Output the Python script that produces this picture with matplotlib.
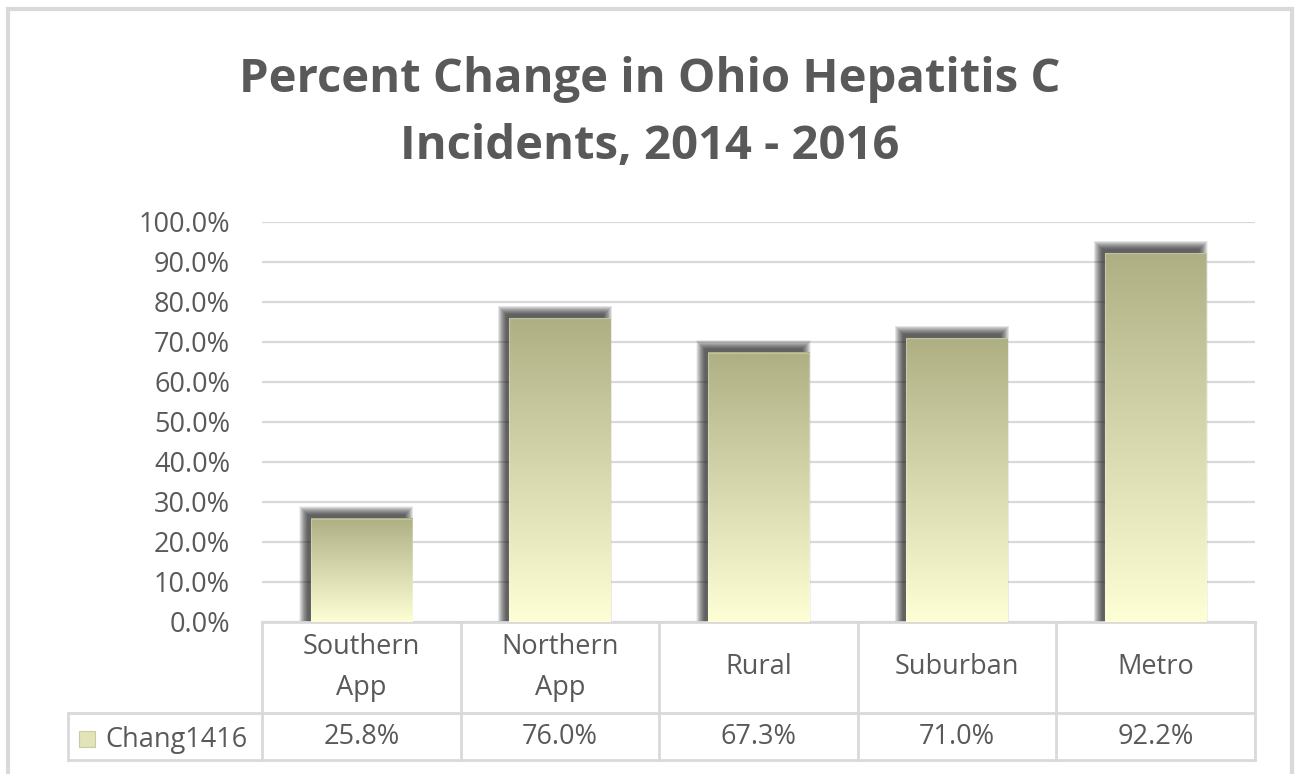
import numpy as np
import matplotlib
matplotlib.use("Agg")
import matplotlib.pyplot as plt
from matplotlib.patches import Rectangle
from matplotlib.lines import Line2D

# ---- data ----
categories = ["Southern\nApp", "Northern\nApp", "Rural", "Suburban", "Metro"]
values = [25.8, 76.0, 67.3, 71.0, 92.2]
series_name = "Chang1416"
title = "Percent Change in Ohio Hepatitis C\nIncidents, 2014 - 2016"
yticks = list(range(0, 101, 10))

# ---- style ----
FONT = "Open Sans"
TXT = "#595959"
GRID = "#d9d9d9"
TOP_C = np.array([174, 176, 132]) / 255
BOT_C = np.array([255, 255, 214]) / 255
W, H = 1299, 774

plt.rcParams["font.family"] = [FONT, "DejaVu Sans"]
fig = plt.figure(figsize=(W / 100, H / 100), dpi=100)

def fx(px):
    return px / W

def fy(py):
    return 1 - py / H

# outer chart border
fig.add_artist(Rectangle((fx(8), fy(790)), fx(1292) - fx(8), fy(9) - fy(790),
                         transform=fig.transFigure, fill=False,
                         edgecolor=GRID, lw=3))

ax = fig.add_axes([fx(262), fy(622), fx(1255) - fx(262), fy(222) - fy(622)])
ax.set_xlim(-0.5, len(categories) - 0.5)
ax.set_ylim(0, 100)
for s in ax.spines.values():
    s.set_visible(False)
ax.set_yticks(yticks)
ax.set_yticklabels([f"{v:.1f}%" for v in yticks])
ax.tick_params(axis="y", length=0, pad=23, labelsize=19.5, labelcolor=TXT)
ax.set_xticks([])
ax.yaxis.grid(True, color=GRID, lw=1.6)
ax.set_axisbelow(True)

# pixel -> data conversions
bw = 0.51
px_x = (len(categories)) / (1255 - 262)
px_y = 100 / (622 - 222)

# shadows (blurred, offset up-left)
dx, dy = -5, 6
nlay = 18
for i, v in enumerate(values):
    x0 = i - bw / 2
    for k in range(nlay):
        grow = (nlay - k) * 0.5 - 2.5
        ax.add_patch(Rectangle((x0 + (dx - grow) * px_x, -5),
                               bw + 2 * grow * px_x,
                               v + 5 + (dy + grow) * px_y,
                               facecolor="#1a1a1a", edgecolor="none",
                               alpha=0.06, zorder=2))

# gradient bars
grad = np.linspace(0, 1, 256)[:, None]
img = TOP_C[None, None, :] * (1 - grad[..., None]) + BOT_C[None, None, :] * grad[..., None]
for i, v in enumerate(values):
    x0 = i - bw / 2
    ax.imshow(img, extent=[x0, x0 + bw, 0, v], aspect="auto", zorder=3,
              interpolation="bilinear")
    ax.add_patch(Rectangle((x0, 0), bw, v, fill=False,
                           edgecolor=(1, 1, 1, 0.25), lw=0.8, zorder=4))
ax.set_xlim(-0.5, len(categories) - 0.5)
ax.set_ylim(0, 100)

# title
fig.text(0.5, fy(113), title, ha="center", va="center", fontsize=34,
         fontweight="bold", color=TXT, linespacing=1.55)

# data table
n = len(categories)
hdr = -(713 - 622) / 400
bot = -(760 - 622) / 400
leg_l = -(262 - 68) / (1255 - 262)
lk = dict(transform=ax.transAxes, color=GRID, lw=2, clip_on=False)
ax.add_line(Line2D([0, 1], [0, 0], **lk))
ax.add_line(Line2D([leg_l, 1], [hdr, hdr], **lk))
ax.add_line(Line2D([leg_l, 1], [bot, bot], **lk))
for i in range(n + 1):
    ax.add_line(Line2D([i / n, i / n], [0, bot], **lk))
ax.add_line(Line2D([leg_l, leg_l], [hdr, bot], **lk))

tk = dict(transform=ax.transAxes, ha="center", va="center", fontsize=19.5,
          color=TXT, clip_on=False)
for i, (c, v) in enumerate(zip(categories, values)):
    ax.text((i + 0.5) / n, hdr / 2, c, linespacing=1.6, **tk)
    ax.text((i + 0.5) / n, (hdr + bot) / 2, f"{v:.1f}%", **tk)

# legend key
fig.add_artist(Rectangle((fx(79), fy(747)), fx(95) - fx(79), fy(731) - fy(747),
                         transform=fig.transFigure, facecolor="#e2e3b9",
                         edgecolor="#c9caa0", lw=0.8))
fig.text(fx(105), fy(740), series_name, ha="left", va="center",
         fontsize=19.5, color=TXT)

fig.savefig("out.png", dpi=100)
